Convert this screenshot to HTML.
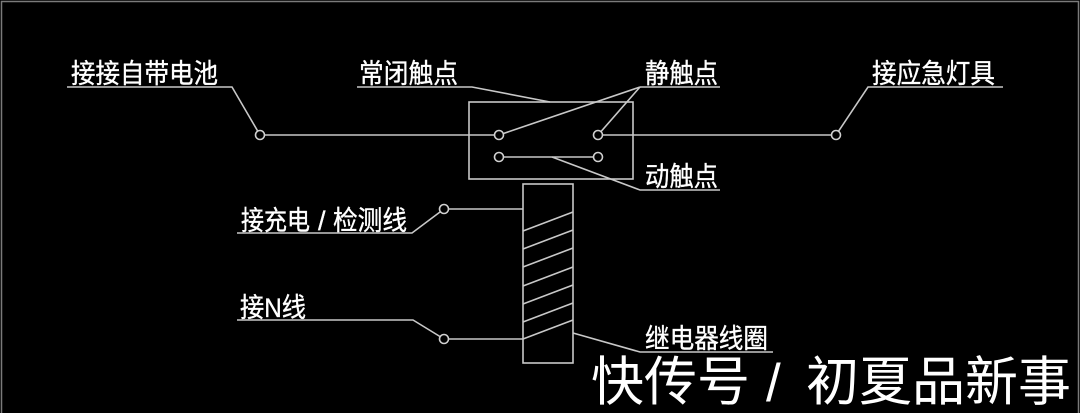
<!DOCTYPE html>
<html>
<head>
<meta charset="utf-8">
<style>
  html, body { margin: 0; padding: 0; background: #000; }
  body { width: 1080px; height: 413px; overflow: hidden; }
  svg { display: block; }
  .t { font-family: "Liberation Sans", "Noto Sans CJK SC", sans-serif; fill: #fff; font-size: 27px; stroke: #fff; stroke-width: 0.35; }
  .w { font-family: "Liberation Sans", "Noto Sans CJK SC", sans-serif; fill: #fff; font-size: 53px; }
</style>
</head>
<body>
<svg width="1080" height="413" viewBox="0 0 1080 413" xmlns="http://www.w3.org/2000/svg">
  <rect x="0" y="0" width="1080" height="413" fill="#000"/>
  <!-- frame -->
  <polyline points="1.5,413 1.5,1.5 1078.5,1.5 1078.5,413" fill="none" stroke="#7a7a7a" stroke-width="1.5"/>

  <g fill="none" stroke="#c8c8c8" stroke-width="1.6">
    <polyline points="67,87 232,87 260,135"/>
    <line x1="260" y1="135" x2="499" y2="135"/>
    <polyline points="357,87 472,87 550,102"/>
    <rect x="469" y="102" width="164" height="77"/>
    <line x1="499" y1="135" x2="640" y2="87"/>
    <line x1="598" y1="135" x2="640" y2="87"/>
    <line x1="640" y1="87" x2="720" y2="87"/>
    <line x1="499" y1="157" x2="598" y2="157"/>
    <polyline points="552,157 640,190 720,190"/>
    <line x1="598" y1="135" x2="836" y2="135"/>
    <polyline points="836,135 868,87 1003,87"/>
    <rect x="523" y="184" width="50" height="179"/>
    <line x1="523" y1="231" x2="573" y2="212"/>
    <line x1="523" y1="249" x2="573" y2="230"/>
    <line x1="523" y1="267" x2="573" y2="248"/>
    <line x1="523" y1="286" x2="573" y2="267"/>
    <line x1="523" y1="304" x2="573" y2="285"/>
    <line x1="523" y1="322" x2="573" y2="303"/>
    <line x1="523" y1="339" x2="573" y2="320"/>
    <line x1="444" y1="209" x2="523" y2="209"/>
    <polyline points="237,233 412,233 444,209"/>
    <line x1="444" y1="339" x2="523" y2="339"/>
    <polyline points="237,320 413,320 444,339"/>
    <polyline points="573,333 640,352 773,352"/>
  </g>

  <g fill="#000" stroke="#d0d0d0" stroke-width="1.6">
    <circle cx="260" cy="135" r="4.5"/>
    <circle cx="499" cy="135" r="4.5"/>
    <circle cx="598" cy="135" r="4.5"/>
    <circle cx="499" cy="157" r="4.5"/>
    <circle cx="598" cy="157" r="4.5"/>
    <circle cx="836" cy="135" r="4.5"/>
    <circle cx="444" cy="209" r="4.5"/>
    <circle cx="444" cy="339" r="4.5"/>
  </g>

  <text class="t" x="71" y="83" textLength="147" lengthAdjust="spacingAndGlyphs">接接自带电池</text>
  <text class="t" x="359" y="83" textLength="99" lengthAdjust="spacingAndGlyphs">常闭触点</text>
  <text class="t" x="645" y="83" textLength="73" lengthAdjust="spacingAndGlyphs">静触点</text>
  <text class="t" x="872" y="83" textLength="123" lengthAdjust="spacingAndGlyphs">接应急灯具</text>
  <text class="t" x="645" y="186" textLength="73" lengthAdjust="spacingAndGlyphs">动触点</text>
  <text class="t" x="241" y="230" textLength="69" lengthAdjust="spacingAndGlyphs">接充电</text>
  <text class="t" x="318" y="230">/</text>
  <text class="t" x="333" y="230" textLength="74" lengthAdjust="spacingAndGlyphs">检测线</text>
  <text class="t" x="240" y="317" textLength="66" lengthAdjust="spacingAndGlyphs">接N线</text>
  <text class="t" x="645" y="348" textLength="123" lengthAdjust="spacingAndGlyphs">继电器线圈</text>

  <text class="w" x="591" y="400" textLength="159" lengthAdjust="spacingAndGlyphs">快传号</text>
  <text class="w" x="766" y="401">/</text>
  <text class="w" x="806" y="400" textLength="265" lengthAdjust="spacingAndGlyphs">初夏品新事</text>
</svg>
</body>
</html>
